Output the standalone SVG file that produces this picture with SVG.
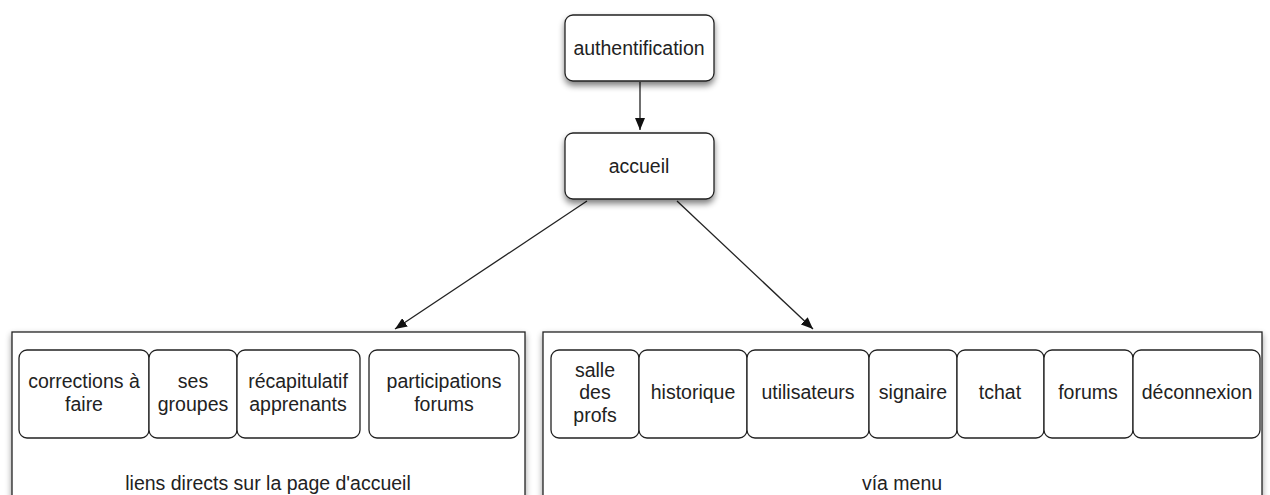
<svg xmlns="http://www.w3.org/2000/svg" width="1270" height="495" viewBox="0 0 1270 495">
<style>
.box{fill:#fff;stroke:#222;stroke-width:1.3}
.cont{fill:#fff;stroke:#222;stroke-width:1.3}
.t{font-family:"Liberation Sans",Arial,sans-serif;font-size:19.5px;fill:#222;text-anchor:middle}
.c{stroke:#222;stroke-width:1.3;fill:none}
</style>
<defs>
<filter id="sh" x="-20%" y="-20%" width="140%" height="150%">
<feGaussianBlur in="SourceAlpha" stdDeviation="3"/>
<feOffset dx="0" dy="4" result="b"/>
<feComponentTransfer><feFuncA type="linear" slope="0.5"/></feComponentTransfer>
<feMerge><feMergeNode/><feMergeNode in="SourceGraphic"/></feMerge>
</filter>
<filter id="sh2" x="-5%" y="-10%" width="110%" height="130%">
<feGaussianBlur in="SourceAlpha" stdDeviation="3"/>
<feOffset dx="0" dy="3" result="b"/>
<feComponentTransfer><feFuncA type="linear" slope="0.4"/></feComponentTransfer>
<feMerge><feMergeNode/><feMergeNode in="SourceGraphic"/></feMerge>
</filter>
<marker id="ah" viewBox="0 0 12 10" refX="12" refY="5" markerWidth="12" markerHeight="10" markerUnits="userSpaceOnUse" orient="auto">
<path d="M0,0 L12,5 L0,10 z" fill="#111"/>
</marker>
</defs>

<g id="connectors">
<line class="c" x1="640" y1="82" x2="640" y2="130" marker-end="url(#ah)"/>
<line class="c" x1="587" y1="201" x2="395" y2="329" marker-end="url(#ah)"/>
<line class="c" x1="677" y1="201" x2="813" y2="329" marker-end="url(#ah)"/>
</g>

<g id="authentification">
<rect class="box" x="565" y="15" width="149" height="66" rx="8" filter="url(#sh)"/>
<text class="t" x="639" y="55">authentification</text>
</g>
<g id="accueil">
<rect class="box" x="565" y="133" width="149" height="66" rx="8" filter="url(#sh)"/>
<text class="t" x="639" y="173">accueil</text>
</g>

<g id="liens-directs">
<rect class="cont" x="12" y="332" width="513" height="175" filter="url(#sh2)"/>
<text class="t" x="268" y="490">liens directs sur la page d'accueil</text>
</g>
<g id="corrections">
<rect class="box" x="19" y="350" width="130" height="88" rx="8"/>
<text class="t" x="84" y="388">corrections à</text>
<text class="t" x="84" y="411">faire</text>
</g>
<g id="ses-groupes">
<rect class="box" x="149" y="350" width="88" height="88" rx="8"/>
<text class="t" x="193" y="388">ses</text>
<text class="t" x="193" y="411">groupes</text>
</g>
<g id="recapitulatif">
<rect class="box" x="237" y="350" width="123" height="88" rx="8"/>
<text class="t" x="298" y="388">récapitulatif</text>
<text class="t" x="298" y="411">apprenants</text>
</g>
<g id="participations">
<rect class="box" x="369" y="350" width="150" height="88" rx="8"/>
<text class="t" x="444" y="388">participations</text>
<text class="t" x="444" y="411">forums</text>
</g>

<g id="via-menu">
<rect class="cont" x="543" y="332" width="719" height="175" filter="url(#sh2)"/>
<text class="t" x="902" y="490">vía menu</text>
</g>
<g id="salle">
<rect class="box" x="551" y="350" width="88" height="88" rx="8"/>
<text class="t" x="595" y="377">salle</text>
<text class="t" x="595" y="399">des</text>
<text class="t" x="595" y="422">profs</text>
</g>
<g id="historique">
<rect class="box" x="639" y="350" width="108" height="88" rx="8"/>
<text class="t" x="693" y="399">historique</text>
</g>
<g id="utilisateurs">
<rect class="box" x="747" y="350" width="122" height="88" rx="8"/>
<text class="t" x="808" y="399">utilisateurs</text>
</g>
<g id="signaire">
<rect class="box" x="869" y="350" width="88" height="88" rx="8"/>
<text class="t" x="913" y="399">signaire</text>
</g>
<g id="tchat">
<rect class="box" x="957" y="350" width="87" height="88" rx="8"/>
<text class="t" x="1000" y="399">tchat</text>
</g>
<g id="forums">
<rect class="box" x="1044" y="350" width="89" height="88" rx="8"/>
<text class="t" x="1088" y="399">forums</text>
</g>
<g id="deconnexion">
<rect class="box" x="1133" y="350" width="127" height="88" rx="8"/>
<text class="t" x="1197" y="399">déconnexion</text>
</g>
</svg>
